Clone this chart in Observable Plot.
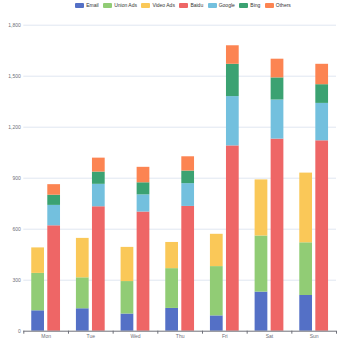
<!DOCTYPE html>
<html>
<head>
<meta charset="utf-8">
<script src="https://cdn.jsdelivr.net/npm/d3@7"></script>
<script src="https://cdn.jsdelivr.net/npm/@observablehq/plot@0.6"></script>
<style>
  html, body { margin: 0; padding: 0; background: #fff; }
  body { width: 350px; height: 350px; overflow: hidden; font-family: "Liberation Sans", Arial, sans-serif; }
  #legend { height: 10px; display: flex; justify-content: center; align-items: center; gap: 4.5px; font-size: 5px; color: #333; padding-left: 16px; box-sizing: border-box; }
  #legend .item { display: flex; align-items: center; gap: 2px; }
  #legend .sw { width: 9px; height: 5px; border-radius: 1px; }
</style>
</head>
<body>
<div id="legend"></div>
<div id="chart"></div>
<script>
const days = ["Mon", "Tue", "Wed", "Thu", "Fri", "Sat", "Sun"];
const seriesNames = ["Email", "Union Ads", "Video Ads", "Baidu", "Google", "Bing", "Others"];
const colors = ["#5470c6", "#91cc75", "#fac858", "#ee6666", "#73c0de", "#3ba272", "#fc8452"];
const email    = [120, 132, 101, 134, 90, 230, 210];
const unionAds = [220, 182, 191, 234, 290, 330, 310];
const videoAds = [150, 232, 201, 154, 190, 330, 410];
const baidu    = [620, 732, 701, 734, 1090, 1130, 1120];
const google   = [120, 132, 101, 134, 290, 230, 220];
const bing     = [60, 72, 71, 74, 190, 130, 110];
const others   = [62, 82, 91, 84, 109, 110, 120];
const yTicks = [0, 300, 600, 900, 1200, 1500, 1800];

const seriesValues = [email, unionAds, videoAds, baidu, google, bing, others];
const stackOf = ["Ads", "Ads", "Ads", "Search", "Search", "Search", "Search"];

// offsets of the two stacks inside each category band (in category units)
const barW = 0.285, gap = 0.074;
const offsets = {Ads: [0.5 - gap / 2 - barW, 0.5 - gap / 2], Search: [0.5 + gap / 2, 0.5 + gap / 2 + barW]};

const rows = [];
seriesNames.forEach((s, si) => {
  days.forEach((d, di) => {
    const g = stackOf[si];
    rows.push({day: d, i: di, series: s, group: g, value: seriesValues[si][di],
      x1: di + offsets[g][0], x2: di + offsets[g][1]});
  });
});

// legend
const legend = document.getElementById("legend");
seriesNames.forEach((s, i) => {
  const it = document.createElement("div");
  it.className = "item";
  it.innerHTML = `<span class="sw" style="background:${colors[i]}"></span><span>${s}</span>`;
  legend.appendChild(it);
});

const chart = Plot.plot({
  width: 350,
  height: 340,
  marginTop: 14.7,
  marginBottom: 19.3,
  marginLeft: 23.3,
  marginRight: 14,
  style: {fontFamily: "Liberation Sans, Arial, sans-serif", fontSize: "5px", color: "#6E7079", background: "#fff"},
  x: {type: "linear", domain: [0, days.length], axis: null, label: null},
  y: {domain: [0, 1800], axis: null, label: null},
  color: {domain: seriesNames, range: colors},
  marks: [
    Plot.ruleY(yTicks.filter(t => t > 0), {stroke: "#E0E6F1", strokeWidth: 1}),
    Plot.axisY({ticks: yTicks, tickFormat: d3.format(","), tickSize: 0, tickPadding: 3, fill: "#6E7079", fontSize: 5, label: null}),
    Plot.rectY(rows, Plot.stackY({x1: "x1", x2: "x2", y: "value", fill: "series", order: seriesNames})),
    Plot.ruleY([0], {stroke: "#6E7079", strokeWidth: 1}),
    Plot.axisX({ticks: d3.range(0, days.length + 1), tickFormat: () => "", tickSize: 3, stroke: "#6E7079", label: null}),
    Plot.axisX({ticks: d3.range(days.length).map(i => i + 0.5), tickFormat: v => days[Math.floor(v)], tickSize: 0, tickPadding: 3, fill: "#6E7079", fontSize: 5, label: null})
  ]
});
document.getElementById("chart").appendChild(chart);
</script>
</body>
</html>
